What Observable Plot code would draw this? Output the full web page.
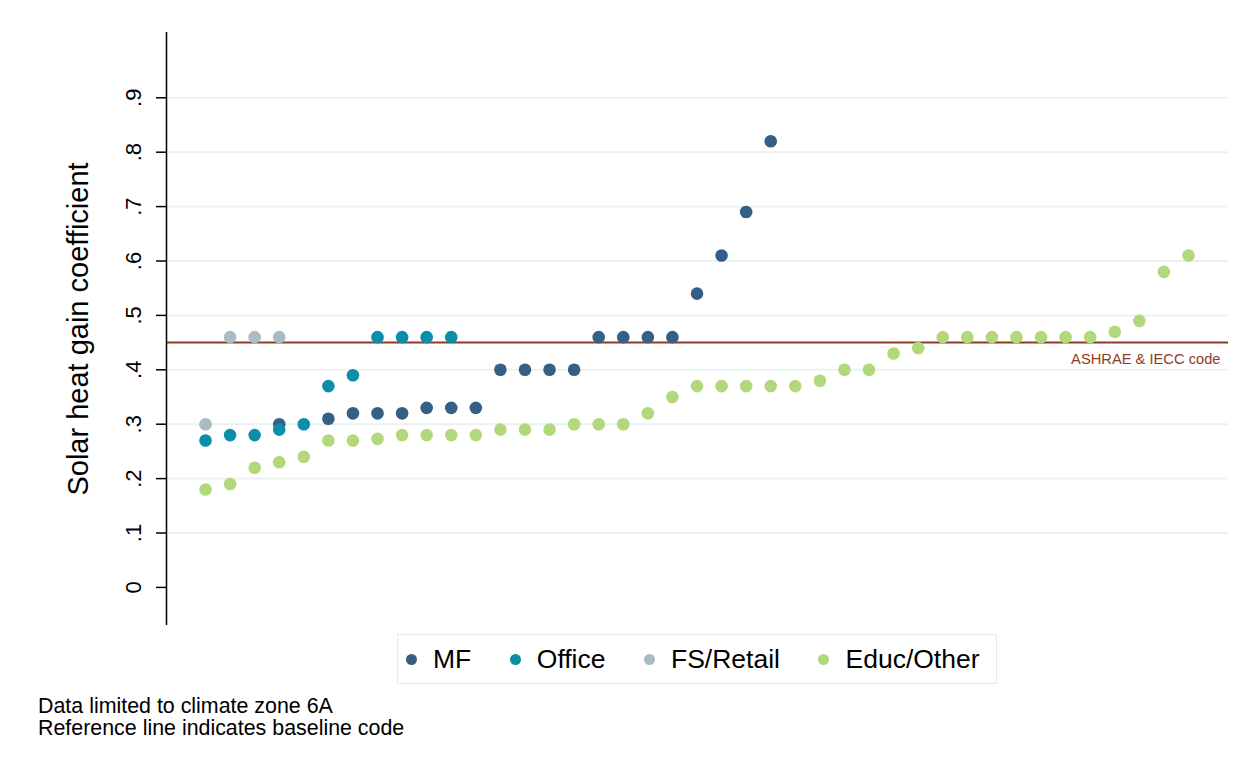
<!DOCTYPE html>
<html>
<head>
<meta charset="utf-8">
<script src="https://cdn.jsdelivr.net/npm/d3@7"></script>
<script src="https://cdn.jsdelivr.net/npm/@observablehq/plot@0.6"></script>
<style>
  html, body { margin: 0; padding: 0; background: #fff; }
  body { width: 1243px; height: 765px; position: relative; overflow: hidden;
         font-family: "Liberation Sans", Arial, sans-serif; color: #000; }
  #chart { position: absolute; left: 0; top: 0; }
  #legend { position: absolute; left: 397px; top: 634px; width: 600px; height: 50px;
            box-sizing: border-box; border: 1.5px solid #e3ecef; display: flex;
            align-items: center; padding-left: 8px; font-size: 26.5px; }
  #legend .item { display: flex; align-items: center; margin-right: 38.5px; }
  #legend .swatch { width: 11px; height: 11px; border-radius: 50%; margin-right: 16px; }
  #notes { position: absolute; left: 38px; top: 695px; font-size: 21.4px; line-height: 22px; }
</style>
</head>
<body>
<div id="chart"></div>
<div id="legend"></div>
<div id="notes"></div>
<script>
// Building groups, in legend order, with their marker colours
const categories = ["MF", "Office", "FS/Retail", "Educ/Other"];
const colors = ["#365f86", "#0b8eab", "#a8bcc4", "#b1d97b"];

// Rank position of each building within its group, and its SHGC
const mfRank = [3, 5, 6, 7, 8, 9, 10, 11, 12, 13, 14, 15, 16, 17, 18, 19, 20, 21, 22, 23];
const mfShgc = [0.30, 0.31, 0.32, 0.32, 0.32, 0.33, 0.33, 0.33, 0.40, 0.40, 0.40, 0.40,
                0.46, 0.46, 0.46, 0.46, 0.54, 0.61, 0.69, 0.82];

const officeRank = [0, 1, 2, 3, 4, 5, 6, 7, 8, 9, 10];
const officeShgc = [0.27, 0.28, 0.28, 0.29, 0.30, 0.37, 0.39, 0.46, 0.46, 0.46, 0.46];

const retailRank = [0, 1, 2, 3];
const retailShgc = [0.30, 0.46, 0.46, 0.46];

const educRank = [0, 1, 2, 3, 4, 5, 6, 7, 8, 9, 10, 11, 12, 13, 14, 15, 16, 17, 18, 19, 20,
                  21, 22, 23, 24, 25, 26, 27, 28, 29, 30, 31, 32, 33, 34, 35, 36, 37, 38, 39, 40];
const educShgc = [0.18, 0.19, 0.22, 0.23, 0.24, 0.27, 0.27, 0.273, 0.28, 0.28, 0.28, 0.28,
                  0.29, 0.29, 0.29, 0.30, 0.30, 0.30, 0.32, 0.35, 0.37, 0.37, 0.37, 0.37,
                  0.37, 0.38, 0.40, 0.40, 0.43, 0.44, 0.46, 0.46, 0.46, 0.46, 0.46, 0.46,
                  0.46, 0.47, 0.49, 0.58, 0.61];

// Baseline code value
const codeShgc = 0.45;
const codeLabel = "ASHRAE & IECC code";

// Axis text
const yTicks = [0, 0.1, 0.2, 0.3, 0.4, 0.5, 0.6, 0.7, 0.8, 0.9];
const yTickLabels = ["0", ".1", ".2", ".3", ".4", ".5", ".6", ".7", ".8", ".9"];
const yTitle = "Solar heat gain coefficient";
const notes = ["Data limited to climate zone 6A", "Reference line indicates baseline code"];

const xDomain = [-1.587, 41.628];
const yDomain = [-0.07, 1.02];

const W = 1243, H = 630;
const margin = {top: 32, right: 15, bottom: 5, left: 166};
const tickLength = 10;

// Position scale for x, used to express the outward tick length in data units
const xScale = Plot.scale({x: {domain: xDomain, range: [margin.left, W - margin.right]}});
const tickStart = xScale.invert(margin.left - tickLength);

const series = [
  [categories[0], mfRank, mfShgc],
  [categories[1], officeRank, officeShgc],
  [categories[2], retailRank, retailShgc],
  [categories[3], educRank, educShgc]
];
const points = series.flatMap(([group, ranks, vals]) =>
  ranks.map((r, i) => ({group, rank: r, shgc: vals[i]})));

const ticks = yTicks.map((v, i) => ({v, label: yTickLabels[i]}));

const chart = Plot.plot({
  width: W,
  height: H,
  marginTop: margin.top,
  marginBottom: margin.bottom,
  marginLeft: margin.left,
  marginRight: margin.right,
  style: {fontFamily: "'Liberation Sans', Arial, sans-serif", background: "white", overflow: "visible"},
  x: {domain: xDomain, axis: null},
  y: {domain: yDomain, axis: null},
  color: {domain: categories, range: colors},
  marks: [
    Plot.gridY(yTicks.filter(v => v > 0), {stroke: "#eaf1f3", strokeOpacity: 1, strokeWidth: 2}),
    Plot.ruleY([codeShgc], {stroke: "#8f3c26", strokeWidth: 2}),
    Plot.text([codeLabel], {frameAnchor: "right", y: () => codeShgc, text: d => d,
      textAnchor: "end", dx: -8, dy: 17, fontSize: 14.7, fill: "#8f3c26"}),
    // y axis line and short outward ticks
    Plot.ruleX([xDomain[0]], {y1: yDomain[0], y2: yDomain[1], stroke: "#000", strokeWidth: 1.5}),
    Plot.ruleY(ticks, {y: "v", x1: () => tickStart, x2: () => xDomain[0],
      stroke: "#000", strokeWidth: 1.5}),
    Plot.text(ticks, {x: () => xDomain[0], y: "v", text: "label", rotate: -90, dx: -33,
      fontSize: 22, fill: "#000", textAnchor: "middle", lineAnchor: "middle"}),
    Plot.text([yTitle], {frameAnchor: "left", text: d => d, rotate: -90, dx: -88,
      fontSize: 29, fill: "#000", textAnchor: "middle", lineAnchor: "middle"}),
    Plot.dot(points, {x: "rank", y: "shgc", fill: "group", r: 6.3, stroke: "none"})
  ]
});
document.getElementById("chart").append(chart);

// Legend
const legend = d3.select("#legend");
categories.forEach((c, i) => {
  const item = legend.append("div").attr("class", "item");
  item.append("div").attr("class", "swatch").style("background", colors[i]);
  item.append("span").text(c);
});

// Notes
d3.select("#notes").selectAll("div").data(notes).join("div").text(d => d);
</script>
</body>
</html>
